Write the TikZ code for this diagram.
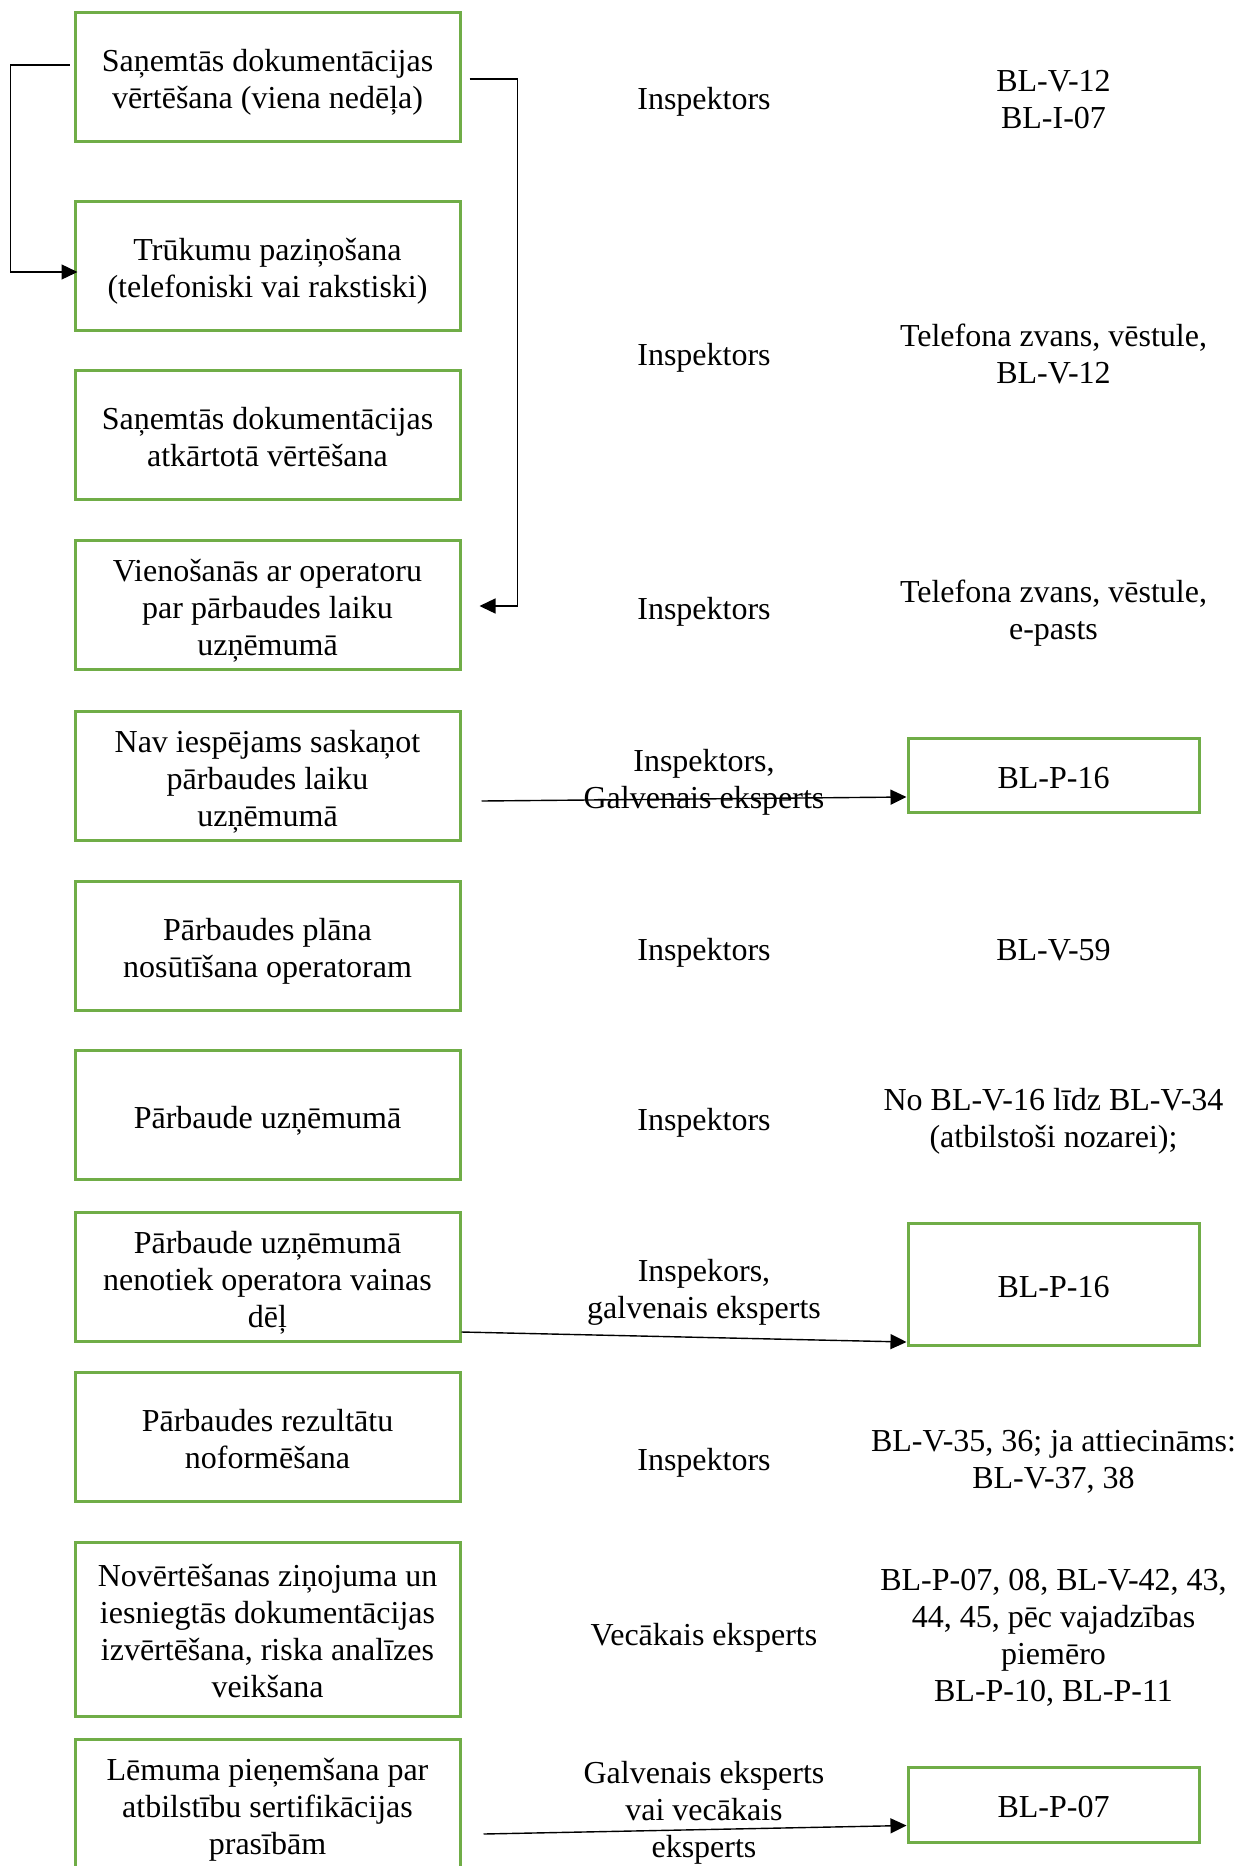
\documentclass[tikz,border=0pt]{standalone}
\usepackage{fontspec}
\setmainfont{Liberation Serif}
\usetikzlibrary{arrows.meta}
\definecolor{boxgreen}{HTML}{70AD47}
\newcommand{\tstrut}{\rule{0pt}{37pt}}
\newcommand{\bstrut}{\rule[-11pt]{0pt}{11pt}}
\begin{document}
\setlength{\lineskiplimit}{-100pt}
\begin{tikzpicture}[x=1pt,y=-1pt,
  font=\fontsize{32}{37}\selectfont,
  lbox/.style={draw=boxgreen, line width=3pt, minimum width=385pt, minimum height=129pt, align=center, inner sep=0pt},
  rbox/.style={draw=boxgreen, line width=3pt, minimum width=291pt, minimum height=74pt, align=center, inner sep=0pt},
  txt/.style={align=center, inner sep=0pt},
  conn/.style={line width=1.4pt, draw=black},
  arr/.style={conn, -{Triangle[length=16pt,width=15pt]}}]
\useasboundingbox (0,0) rectangle (1243,1866);
% left boxes
\node[lbox] (b1) at (267.5,76.5) {\tstrut Saņemtās dokumentācijas\\vērtēšana (viena nedēļa)\bstrut};
\node[lbox] (b2) at (267.5,265.5) {\tstrut Trūkumu paziņošana\\(telefoniski vai rakstiski)\bstrut};
\node[lbox] (b3) at (267.5,435) {\tstrut Saņemtās dokumentācijas\\atkārtotā vērtēšana\bstrut};
\node[lbox] (b4) at (267.5,605) {\tstrut Vienošanās ar operatoru\\par pārbaudes laiku\\uzņēmumā\bstrut};
\node[lbox] (b5) at (267.5,776) {\tstrut Nav iespējams saskaņot\\pārbaudes laiku\\uzņēmumā\bstrut};
\node[lbox] (b6) at (267.5,946) {\tstrut Pārbaudes plāna\\nosūtīšana operatoram\bstrut};
\node[lbox] (b7) at (267.5,1115) {\tstrut Pārbaude uzņēmumā\bstrut};
\node[lbox] (b8) at (267.5,1277) {\tstrut Pārbaude uzņēmumā\\nenotiek operatora vainas\\dēļ\bstrut};
\node[lbox] (b9) at (267.5,1436.5) {\tstrut Pārbaudes rezultātu\\noformēšana\bstrut};
\node[lbox, minimum height=174pt] (b10) at (267.5,1629) {\tstrut Novērtēšanas ziņojuma un\\iesniegtās dokumentācijas\\izvērtēšana, riska analīzes\\veikšana\bstrut};
\node[lbox, minimum height=130pt] (b11) at (267.5,1804) {\tstrut Lēmuma pieņemšana par\\atbilstību sertifikācijas\\prasībām\bstrut};
% middle column
\node[txt] (m1) at (704,96) {\tstrut Inspektors\bstrut};
\node[txt] (m2) at (704,352) {\tstrut Inspektors\bstrut};
\node[txt] (m4) at (704,606) {\tstrut Inspektors\bstrut};
\node[txt] (m5) at (704,777) {\tstrut Inspektors,\\Galvenais eksperts\bstrut};
\node[txt] (m6) at (704,947) {\tstrut Inspektors\bstrut};
\node[txt] (m7) at (704,1117) {\tstrut Inspektors\bstrut};
\node[txt] (m8) at (704,1287) {\tstrut Inspekors,\\galvenais eksperts\bstrut};
\node[txt] (m9) at (704,1457) {\tstrut Inspektors\bstrut};
\node[txt] (m10) at (704,1632) {\tstrut Vecākais eksperts\bstrut};
\node[txt] (m11) at (704,1807) {\tstrut Galvenais eksperts\\vai vecākais\\eksperts\bstrut};
% right column
\node[txt] (t1) at (1053.5,97) {\tstrut BL-V-12\\BL-I-07\bstrut};
\node[txt] (t2) at (1053.5,351.5) {\tstrut Telefona zvans, vēstule,\\BL-V-12\bstrut};
\node[txt] (t4) at (1053.5,608) {\tstrut Telefona zvans, vēstule,\\e-pasts\bstrut};
\node[rbox] (r1) at (1053.5,775) {\tstrut BL-P-16\bstrut};
\node[txt] (t6) at (1053.5,947) {\tstrut BL-V-59\bstrut};
\node[txt] (t7) at (1053.5,1115.5) {\tstrut No BL-V-16 līdz BL-V-34\\(atbilstoši nozarei);\bstrut};
\node[rbox, minimum height=122pt] (r2) at (1053.5,1284) {\tstrut BL-P-16\bstrut};
\node[txt] (t9) at (1053.5,1457) {\tstrut BL-V-35, 36; ja attiecināms:\\BL-V-37, 38\bstrut};
\node[txt] (t10) at (1053.5,1633) {\tstrut BL-P-07, 08, BL-V-42, 43,\\44, 45, pēc vajadzības\\piemēro\\BL-P-10, BL-P-11\bstrut};
\node[rbox, minimum height=75pt] (r3) at (1053.5,1804.5) {\tstrut BL-P-07\bstrut};
% connectors
\draw[arr] ([xshift=-4pt,yshift=11.5pt]b1.west) -- ++(-59,0) |- ([xshift=4pt,yshift=-6.5pt]b2.west);
\draw[arr] ([xshift=8pt,yshift=-2.5pt]b1.east) -- ++(48,0) |- ([xshift=18pt,yshift=-1pt]b4.east);
\draw[arr] ([xshift=20pt,yshift=-25pt]b5.east) -- ([yshift=-22pt]r1.west);
\draw[arr] ([yshift=-55pt]b8.east) -- ([yshift=-58pt]r2.west);
\draw[arr] ([xshift=22pt,yshift=-30pt]b11.east) -- ([yshift=-21pt]r3.west);
\end{tikzpicture}
\end{document}
